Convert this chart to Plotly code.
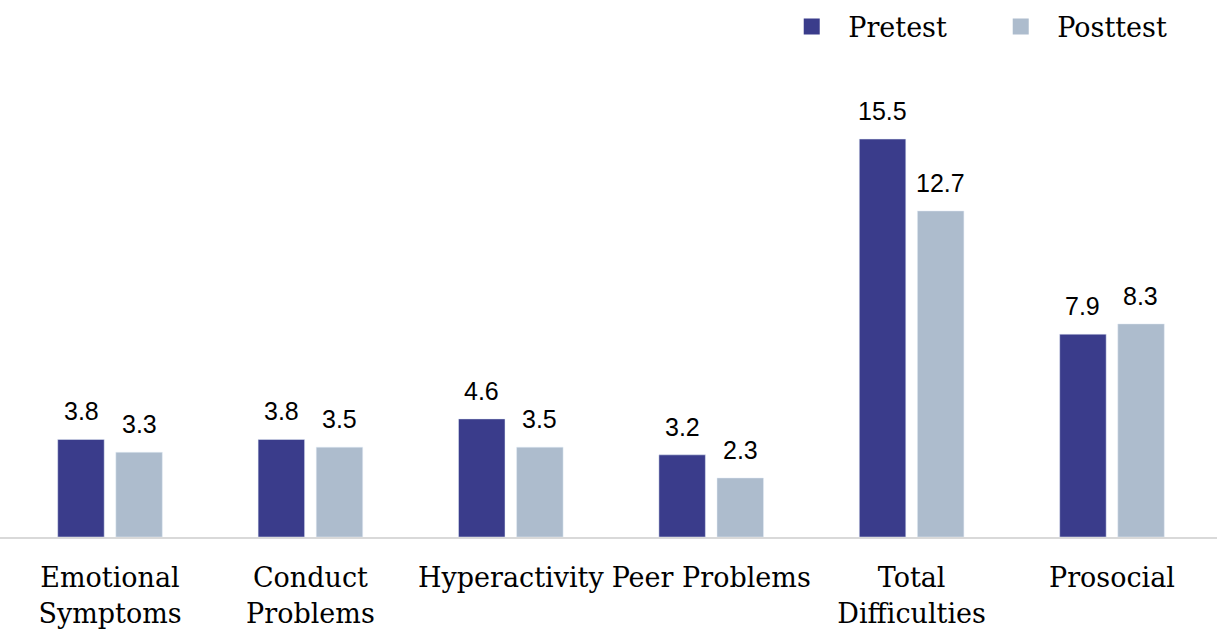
import plotly.graph_objects as go

categories = ["Emotional<br>Symptoms", "Conduct<br>Problems", "Hyperactivity",
              "Peer Problems", "Total<br>Difficulties", "Prosocial"]
pretest = [3.8, 3.8, 4.6, 3.2, 15.5, 7.9]
posttest = [3.3, 3.5, 3.5, 2.3, 12.7, 8.3]

PRE_COLOR = "#3a3c8b"
POST_COLOR = "#adbccd"
SERIF = "DejaVu Serif"
SANS = "Liberation Sans"

fig = go.Figure()
fig.add_trace(go.Bar(x=categories, y=pretest, name="Pretest",
                     marker_color=PRE_COLOR, showlegend=False))
fig.add_trace(go.Bar(x=categories, y=posttest, name="Posttest",
                     marker_color=POST_COLOR, showlegend=False))

# legend swatches (square markers like the original)
for name, col in [("Pretest", PRE_COLOR), ("Posttest", POST_COLOR)]:
    fig.add_trace(go.Scatter(x=[None], y=[None], mode="markers", name=name,
                             marker=dict(symbol="square", size=17, color=col)))

# value labels above each bar
for cat, a, b in zip(categories, pretest, posttest):
    for val, dx in [(a, -29), (b, 29)]:
        fig.add_annotation(x=cat, y=val, text=f"{val:.1f}", showarrow=False,
                           xshift=dx, yshift=12, yanchor="bottom",
                           font=dict(family=SANS, size=25, color="#000000"))

fig.update_layout(
    width=1217, height=633,
    barmode="group", bargap=0.42, bargroupgap=0.2,
    plot_bgcolor="white", paper_bgcolor="white",
    margin=dict(l=0, r=0, t=80, b=96, autoexpand=False),
    legend=dict(orientation="h", x=0.637, xanchor="left", y=1.1695, yanchor="top",
                font=dict(family=SERIF, size=27, color="#000000"),
                itemwidth=63, entrywidth=131, bgcolor="rgba(0,0,0,0)"),
)
fig.update_xaxes(range=[-0.549, 5.524], showline=True, linecolor="#d9d9d9",
                 linewidth=2, ticks="", showgrid=False, automargin=False,
                 ticklabelstandoff=16,
                 tickfont=dict(family=SERIF, size=27, color="#000000"))
fig.update_yaxes(range=[0, 17.8], visible=False, showgrid=False, automargin=False)

# drop the default 8px body margin so the figure fills the window
fig.write_html("out.html", config={"displayModeBar": False},
               post_script="document.body.style.margin='0';")
